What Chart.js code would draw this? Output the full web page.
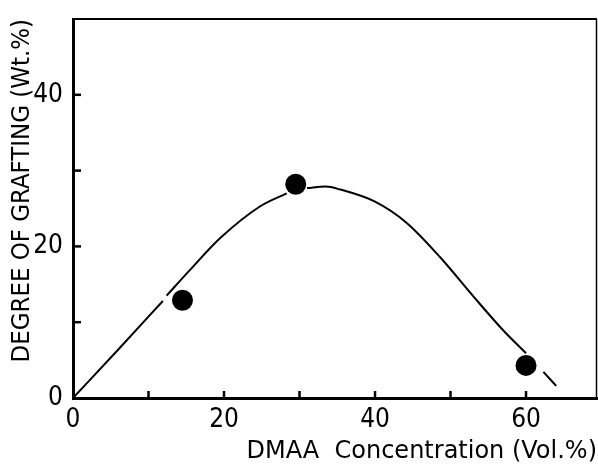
<!DOCTYPE html>
<html>
<head>
<meta charset="utf-8">
<script src="https://cdn.jsdelivr.net/npm/chart.js@4.4.1/dist/chart.umd.min.js"></script>
<style>
  html, body { margin: 0; padding: 0; background: #ffffff; }
  #c { display: block; }
</style>
</head>
<body>
<canvas id="c" width="598" height="466"></canvas>
<script>
// Measured points (DMAA vol.% vs grafting wt.%)
const pointX = [14.5, 29.5, 60];
const pointY = [12.9, 28.2, 4.3];

// Hand-drawn fitted curve (null = pen lifted)
const curveX = [0, 6, 11.9, 12.15, 12.4, 15.5, 19.5, 24.8, 28.3, 29.6, 31.0, 33.5, 35.4, 40.0, 44.2, 48.6, 53.2, 57.0, 60.0, 61.2, 62.3, 64.0];
const curveY = [0, 6.4, 12.8, null, 13.5, 16.9, 21.1, 25.3, 27.0, null, 27.7, 27.9, 27.5, 25.9, 23.1, 18.6, 13.2, 8.9, 5.9, null, 3.45, 1.6];

// Axes
const xMin = 0, xMax = 69.4, xStep = 10;
const yMin = 0, yMax = 50, yStep = 10;
const labelEvery = 20;
const xTitle = 'DMAA  Concentration (Vol.%)';
const yTitle = 'DEGREE OF GRAFTING (Wt.%)';

const narrow = '"DejaVu Sans Condensed", "Liberation Sans Narrow", sans-serif';

const framePlugin = {
  id: 'frame',
  afterDraw(chart) {
    const { ctx, chartArea: a, scales: { x, y } } = chart;
    ctx.save();
    ctx.strokeStyle = '#000';
    ctx.lineCap = 'butt';
    // top and right borders
    ctx.lineWidth = 2;
    ctx.beginPath();
    ctx.moveTo(a.left, a.top);
    ctx.lineTo(a.right, a.top);
    ctx.stroke();
    ctx.lineWidth = 1.5;
    ctx.beginPath();
    ctx.moveTo(a.right - 0.5, a.top);
    ctx.lineTo(a.right - 0.5, a.bottom);
    ctx.stroke();
    // inward tick marks
    ctx.lineWidth = 2.5;
    x.ticks.forEach(t => {
      if (t.value > xMin && t.value % xStep === 0 && t.value < xMax) {
        const px = x.getPixelForValue(t.value);
        ctx.beginPath();
        ctx.moveTo(px, a.bottom);
        ctx.lineTo(px, a.bottom - 7);
        ctx.stroke();
      }
    });
    y.ticks.forEach(t => {
      if (t.value > yMin && t.value % yStep === 0 && t.value < yMax) {
        const py = y.getPixelForValue(t.value);
        ctx.beginPath();
        ctx.moveTo(a.left, py);
        ctx.lineTo(a.left + 8, py);
        ctx.stroke();
      }
    });
    ctx.restore();
  }
};

function zeroPad(s) {
  s.paddingLeft = 0; s.paddingRight = 0; s.paddingTop = 0; s.paddingBottom = 0;
}

new Chart(document.getElementById('c'), {
  type: 'scatter',
  data: {
    datasets: [
      {
        label: 'curve',
        data: curveX.map((v, i) => ({ x: v, y: curveY[i] })),
        showLine: true,
        spanGaps: false,
        borderColor: '#000',
        borderWidth: 2,
        pointRadius: 0,
        cubicInterpolationMode: 'monotone',
        fill: false
      },
      {
        label: 'data',
        data: pointX.map((v, i) => ({ x: v, y: pointY[i] })),
        showLine: false,
        pointRadius: 10.5,
        pointBackgroundColor: '#000',
        pointBorderColor: '#000',
        pointBorderWidth: 0
      }
    ]
  },
  options: {
    responsive: false,
    animation: false,
    devicePixelRatio: 1,
    layout: { autoPadding: false, padding: { top: 19, right: 1, left: 0, bottom: 0 } },
    plugins: { legend: { display: false }, tooltip: { enabled: false } },
    scales: {
      x: {
        type: 'linear',
        min: xMin, max: xMax,
        grid: { display: false, drawTicks: false },
        border: { display: true, color: '#000', width: 3 },
        ticks: {
          stepSize: xStep,
          includeBounds: false,
          autoSkip: false,
          maxRotation: 0,
          padding: 9,
          color: '#000',
          font: { family: narrow, size: 26, lineHeight: 1 },
          callback: v => (v % labelEvery === 0 ? String(v) : '')
        },
        title: {
          display: true,
          text: xTitle,
          align: 'end',
          color: '#000',
          font: { family: '"DejaVu Sans", sans-serif', size: 24, lineHeight: 1 },
          padding: { top: 0, bottom: 2 }
        },
        afterFit: s => { s.height = 68; zeroPad(s); }
      },
      y: {
        type: 'linear',
        min: yMin, max: yMax,
        grid: { display: false, drawTicks: false },
        border: { display: true, color: '#000', width: 3 },
        ticks: {
          stepSize: yStep,
          autoSkip: false,
          padding: 10,
          color: '#000',
          font: { family: narrow, size: 26, lineHeight: 1 },
          callback: v => (v % labelEvery === 0 ? String(v) : '')
        },
        title: {
          display: true,
          text: yTitle,
          align: 'end',
          color: '#000',
          font: { family: narrow, size: 25.5, lineHeight: 1 },
          padding: { top: 10, bottom: 0 }
        },
        afterFit: s => { s.width = 73; zeroPad(s); }
      }
    }
  },
  plugins: [framePlugin]
});
</script>
</body>
</html>
